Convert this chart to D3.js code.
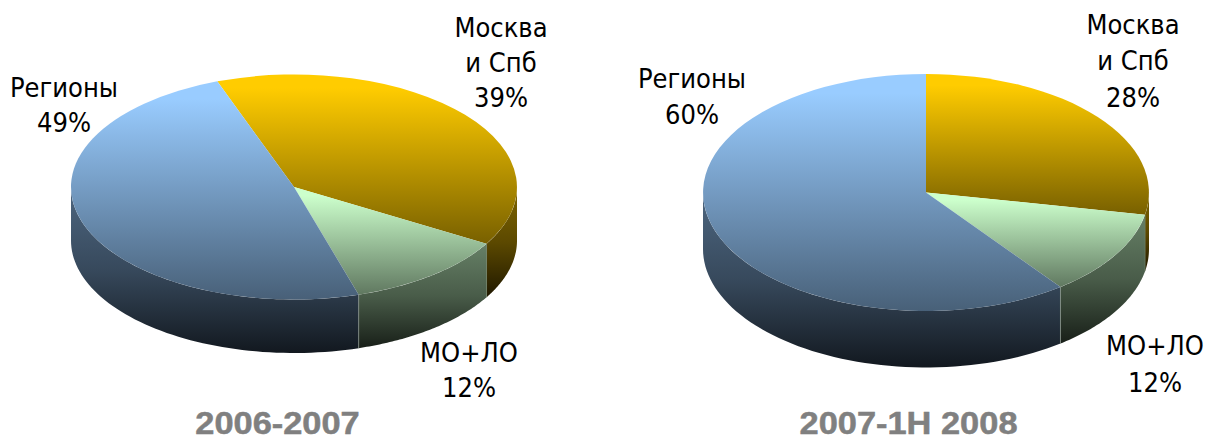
<!DOCTYPE html>
<html><head><meta charset="utf-8">
<script src="https://cdn.jsdelivr.net/npm/d3@7/dist/d3.min.js"></script>
<style>html,body{margin:0;padding:0;background:#fff}svg{display:block}</style>
</head><body><div id="c"></div>
<script>
const categories = ["Москва и Спб", "МО+ЛО", "Регионы"];
const values2006 = [39, 11.9, 49.1];
const values2007 = [28, 11.7, 60.3];
const titles = ["2006-2007", "2007-1Н 2008"];
const topColors = ["#ffcc00", "#ccffcc", "#99ccff"];
const labelLines = [["Москва", "и Спб"], ["МО+ЛО"], ["Регионы"]];

const W = 1207, H = 436;
const pies = [
  {values: values2006, title: titles[0], cx: 294, cy: 187, rx: 223, ry: 112.5, depth: 53.5, start: -20.1, titleX: 277.5,
   labels: [{x: 501, y: [37, 72, 107]}, {x: 469, y: [362, 397]}, {x: 64, y: [97, 132]}]},
  {values: values2007, title: titles[1], cx: 926, cy: 192.5, rx: 223, ry: 118.5, depth: 56.5, start: 0, titleX: 908.5,
   labels: [{x: 1133, y: [34, 70, 107]}, {x: 1155, y: [355, 392]}, {x: 692, y: [88, 124]}]}
];

const svg = d3.select("#c").append("svg").attr("width", W).attr("height", H);
const defs = svg.append("defs");
const percent = d3.format(".0f");

function grad(id, top, stops) {
  const c = d3.color(top);
  const g = defs.append("linearGradient").attr("id", id)
    .attr("x1", 0).attr("y1", 0).attr("x2", 0).attr("y2", 1);
  stops.forEach(([o, k]) => g.append("stop").attr("offset", o)
    .attr("stop-color", d3.rgb(c.r * k, c.g * k, c.b * k).formatHex()));
}
topColors.forEach((c, i) => {
  grad("top" + i, c, [[0, 1], [0.08, 1], [1, 0.47]]);
  grad("side" + i, c, [[0, 0.5], [0.5, 0.36], [1, 0.12]]);
});

const unitArc = d3.arc().innerRadius(0).outerRadius(1);

pies.forEach(p => {
  const s0 = p.start * Math.PI / 180;
  const arcs = d3.pie().sort(null).startAngle(s0).endAngle(s0 + 2 * Math.PI)(p.values);
  const g = svg.append("g");
  const px = a => p.cx + p.rx * Math.sin(a);
  const py = a => p.cy - p.ry * Math.cos(a);

  // side walls: only the front half of the ellipse (90°..270°) is visible
  arcs.forEach((a, i) => {
    const lo = Math.max(a.startAngle, Math.PI / 2);
    const hi = Math.min(a.endAngle, 3 * Math.PI / 2);
    if (hi <= lo) return;
    const angs = d3.range(0, 61).map(k => lo + (hi - lo) * k / 60);
    const upper = angs.map(t => [px(t), py(t)]);
    const lower = angs.slice().reverse().map(t => [px(t), py(t) + p.depth]);
    g.append("path")
      .attr("d", d3.line()(upper.concat(lower)) + "Z")
      .attr("fill", `url(#side${i})`);
  });
  // thin light seams on the wall between slices
  [arcs[0].endAngle, arcs[1].endAngle].forEach((seam, k) => {
    g.append("line").attr("x1", px(seam)).attr("x2", px(seam))
      .attr("y1", py(seam)).attr("y2", py(seam) + p.depth)
      .attr("stroke", k ? "#8d9a8d" : "#6f7f66").attr("stroke-width", 0.7);
  });

  // top face
  const topG = g.append("g").attr("transform", `translate(${p.cx},${p.cy}) scale(${p.rx},${p.ry})`);
  topG.selectAll("path").data(arcs).join("path")
    .attr("d", unitArc)
    .attr("fill", (d, i) => `url(#top${i})`);

  // labels
  const tg = g.append("g").attr("font-family", "'DejaVu Sans Condensed','DejaVu Sans',sans-serif")
    .attr("font-stretch", "condensed").attr("font-size", 27).attr("fill", "#000").attr("text-anchor", "middle");
  p.labels.forEach((l, i) => {
    const lines = labelLines[i].concat([percent(p.values[i]) + "%"]);
    lines.forEach((t, k) => tg.append("text").attr("x", l.x).attr("y", l.y[k]).text(t));
  });

  g.append("text").attr("transform", `translate(${p.titleX},433.5) scale(1.11,1)`)
    .attr("text-anchor", "middle").attr("font-family", "'Liberation Sans',Arial,sans-serif")
    .attr("font-weight", "bold").attr("font-size", 31).attr("fill", "#808080")
    .attr("stroke", "#808080").attr("stroke-width", 0.5).text(p.title);
});
</script></body></html>
